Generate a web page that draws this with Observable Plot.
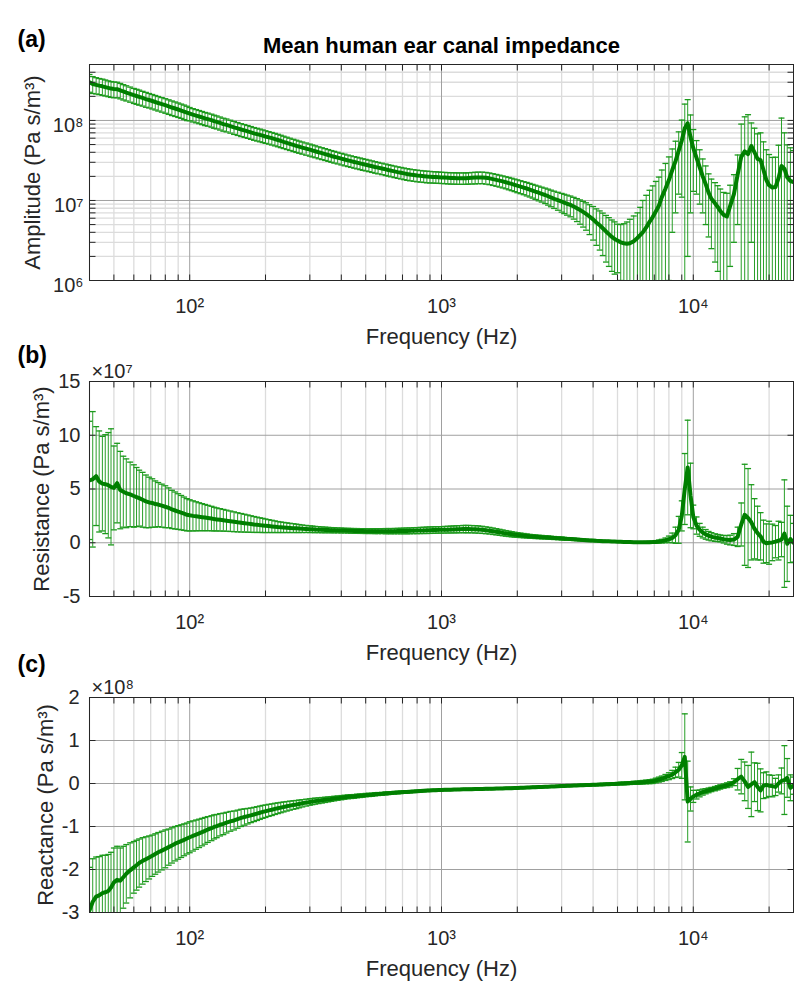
<!DOCTYPE html>
<html><head><meta charset="utf-8">
<script src="https://cdn.jsdelivr.net/npm/d3@7"></script>
<script src="https://cdn.jsdelivr.net/npm/@observablehq/plot@0.6"></script>
<style>
body{margin:0;background:#fff;}
#wrap{position:relative;width:805px;height:998px;overflow:hidden;}
.panel{position:absolute;left:0;}
</style></head><body><div id="wrap"></div>
<script>
// ---------------- data ----------------
const freq = [
 40,41.2,42.5,43.7,45,46.2,47.5,48.7, 50,51.5,53,54.5,56,58,60,61.5, 63,65,67,69,71,73,75,77.5, 80,82.5,85,87.5,90,92.5,95,97.5,
 100,103,106,109,112,115,118,122,125,128, 132,136,140,145,150,155,160,165,170,175, 180,185,190,195,200,206,212,218,224,230, 236,243,250,258,265,272,280,290,300,307,
 315,325,335,345,355,365,375,387,400,412, 425,437,450,462,475,487,500,515,530,545, 560,580,600,615,630,650,670,690,710,730, 750,775,800,825,850,875,900,925,950,975,
 1000,1030,1060,1090,1120,1150,1180,1220,1250,1280, 1320,1360,1400,1450,1500,1550,1600,1650,1700,1750, 1800,1850,1900,1950,2000,2060,2120,2180,2240,2300, 2360,2430,2500,2580,2650,2720,2800,2900,3000,3070,
 3150,3250,3350,3450,3550,3650,3750,3870,4000,4120, 4250,4370,4500,4620,4750,4870,5000,5150,5300,5450, 5600,5800,6000,6150,6300,6500,6700,6900,7100,7300, 7500,7750,8000,8250,8500,8750,9000,9250,9500,9750,
 10000,10300,10600,10900,11200,11500,11800,12200,12500,12800, 13200,13600,14000,14500,15000,15500,16000,16500,17000,17500, 18000,18500,19000,19500,20000,20600,21200,21800,22400,23000, 23600,24300,25000
];
// (a) amplitude, units of 1e6 Pa s/m^3
const ampMean = [
 300,285,278,272,267,261,255,250, 247,246,238,230,223,215,207,202, 197,191,185,180,175,170,165,160, 155,150,145,141,137,133,129,125,
 122,118,115,112,109,106,104,101,98,96, 93,90,88,85,82,79.5,77,75,73,71, 69,67.5,66,64.5,63,61.5,60,58.5,57,55.5, 54,52.5,51,49.5,48.2,47,45.8,44.5,43.2,42.2,
 41.2,40,39,38,37,36,35.2,34.3,33.3,32.5, 31.7,31,30.3,29.7,29.1,28.5,28,27.4,26.8,26.2, 25.7,25.1,24.5,24,23.6,23.1,22.6,22.2,21.8,21.4, 21.1,20.8,20.5,20.3,20.1,19.9,19.8,19.7,19.6,19.5,
 19.4,19.3,19.2,19.1,19.1,19.0,19.0,19.0,19.0,19.1, 19.2,19.3,19.4,19.4,19.2,18.9,18.5,18.1,17.7,17.3, 16.9,16.5,16.1,15.7,15.3,14.9,14.5,14.1,13.7,13.3, 12.9,12.5,12.1,11.7,11.3,10.9,10.5,10.1,9.7,9.4,
 9.1,8.8,8.4,8.0,7.6,7.2,6.8,6.3,5.8,5.3, 4.9,4.5,4.1,3.8,3.5,3.3,3.15,3.0,2.92,2.88, 2.92,3.1,3.4,3.7,4.0,4.6,5.4,6.2,7.3,8.6, 11,14,18,24,31,42,56,80,92,62,
 45,34,26,20,16,12.5,10.5,9.2,8.3,7.4, 6.6,6.3,8.5,12,21,35,41,38,48,40, 33,32,24,18,15.5,14.5,14.7,19,27,25, 19.5,17.5,17
];
const ampSD = [
 75,68,64,62,61,59,57,56, 55,54,52,50,48,46,44,43, 42,40,39,37,36,35,34,33, 32,31,30,29,28,27,26.5,25.5,
 23,22.3,21.6,21,20.4,19.8,19.3,18.7,18.2,17.7, 17.2,16.6,16.2,15.6,15.1,14.6,14.1,13.7,13.3,12.9, 12.5,12.2,11.9,11.6,11.3,11,10.7,10.4,10.1,9.8, 9.5,9.2,8.9,8.6,8.4,8.1,7.9,7.7,7.4,7.2,
 7,6.8,6.6,6.4,6.2,6,5.9,5.7,5.5,5.4, 5.2,5.1,5,4.9,4.8,4.7,4.6,4.5,4.4,4.3, 4.2,4.1,4,3.9,3.85,3.8,3.7,3.65,3.6,3.55, 3.5,3.45,3.4,3.35,3.3,3.3,3.25,3.2,3.2,3.15,
 3.1,3.1,3.1,3.1,3.1,3.1,3.1,3.1,3.1,3.1, 3.15,3.2,3.2,3.2,3.2,3.15,3.1,3.05,3,2.95, 2.9,2.9,2.85,2.8,2.8,2.75,2.7,2.7,2.65,2.6, 2.6,2.6,2.55,2.55,2.55,2.55,2.55,2.55,2.55,2.55,
 2.55,2.55,2.55,2.55,2.55,2.55,2.55,2.55,2.6,2.55, 2.5,2.45,2.4,2.3,2.2,2.1,1.9,2.0,2.2,2.5, 2.9,3.3,3.6,4.5,6,7,8,9,10,11, 13,15,17,20,24,30,45,80,90,55,
 32,22,17,13,11,9,8,7.5,7,6.5, 6,6,7,9,16,55,70,80,45,40, 35,38,30,25,22,20,20,30,80,45, 30,28,25
];
// (b) resistance, units of 1e7 Pa s/m^3
const resMean = [
 5.8,5.9,6.2,5.7,5.5,5.45,5.35,5.2, 5.1,5.55,4.9,4.75,4.6,4.5,4.35,4.25, 4.15,4.0,3.85,3.75,3.7,3.6,3.55,3.45, 3.35,3.25,3.1,3.0,2.9,2.8,2.7,2.6,
 2.55,2.5,2.46,2.42,2.38,2.34,2.3,2.25,2.2,2.17, 2.13,2.09,2.05,2.0,1.95,1.9,1.86,1.82,1.78,1.74, 1.7,1.67,1.64,1.61,1.58,1.55,1.52,1.49,1.46,1.44, 1.42,1.4,1.38,1.36,1.34,1.32,1.3,1.28,1.26,1.25,
 1.23,1.22,1.2,1.19,1.18,1.17,1.16,1.15,1.14,1.13, 1.12,1.11,1.1,1.1,1.09,1.09,1.08,1.08,1.08,1.08, 1.08,1.08,1.08,1.08,1.08,1.08,1.09,1.09,1.1,1.1, 1.11,1.12,1.13,1.14,1.15,1.16,1.17,1.18,1.19,1.2,
 1.2,1.21,1.22,1.23,1.24,1.25,1.26,1.27,1.27,1.27, 1.26,1.25,1.23,1.2,1.16,1.12,1.07,1.02,0.97,0.92, 0.87,0.83,0.79,0.75,0.72,0.69,0.66,0.63,0.6,0.58, 0.56,0.54,0.52,0.5,0.48,0.46,0.44,0.42,0.4,0.38,
 0.36,0.34,0.32,0.3,0.28,0.26,0.24,0.22,0.2,0.18, 0.17,0.15,0.14,0.13,0.12,0.11,0.1,0.09,0.08,0.07, 0.06,0.05,0.04,0.04,0.04,0.04,0.05,0.06,0.08,0.11, 0.15,0.22,0.32,0.45,0.7,1.2,2.5,5.0,7.0,4.4,
 2.4,1.6,1.2,0.95,0.78,0.65,0.56,0.48,0.44,0.4, 0.33,0.27,0.25,0.3,0.55,1.7,2.6,2.3,1.9,1.3, 0.9,0.6,0.1,-0.05,0.0,0.03,0.1,0.2,0.3,0.85, -0.1,0.35,0.0
];
const resSD = [
 5.5,6.3,4.6,4.7,4.4,4.6,4.9,5.4, 3.9,3.7,3.6,3.3,3.2,3.0,2.9,2.75, 2.6,2.55,2.45,2.35,2.25,2.15,2.05,2.0, 1.95,1.85,1.78,1.72,1.66,1.6,1.55,1.5,
 1.45,1.4,1.35,1.3,1.26,1.22,1.18,1.14,1.1,1.07, 1.04,1.01,0.98,0.95,0.92,0.89,0.86,0.83,0.8,0.77, 0.74,0.71,0.68,0.66,0.63,0.6,0.57,0.54,0.51,0.49, 0.47,0.45,0.43,0.41,0.39,0.37,0.35,0.33,0.31,0.3,
 0.29,0.28,0.27,0.26,0.25,0.24,0.24,0.23,0.23,0.22, 0.22,0.22,0.22,0.22,0.22,0.22,0.22,0.22,0.22,0.23, 0.23,0.23,0.24,0.24,0.24,0.25,0.25,0.26,0.26,0.27, 0.27,0.28,0.28,0.29,0.29,0.3,0.3,0.3,0.3,0.3,
 0.3,0.31,0.31,0.32,0.32,0.33,0.33,0.34,0.34,0.34, 0.34,0.34,0.34,0.33,0.32,0.31,0.3,0.29,0.28,0.27, 0.26,0.25,0.24,0.23,0.22,0.21,0.2,0.19,0.18,0.17, 0.17,0.16,0.16,0.15,0.15,0.14,0.14,0.13,0.13,0.12,
 0.12,0.11,0.11,0.1,0.1,0.1,0.09,0.09,0.09,0.08, 0.08,0.08,0.07,0.07,0.07,0.06,0.06,0.06,0.06,0.06, 0.06,0.06,0.06,0.06,0.07,0.08,0.09,0.1,0.12,0.14, 0.17,0.22,0.3,0.45,0.75,1.25,1.4,3.3,4.4,3.0,
 1.1,0.8,0.6,0.5,0.45,0.4,0.38,0.35,0.33,0.32, 0.35,0.4,0.45,0.55,0.9,2.0,4.7,4.6,3.5,2.8, 2.5,2.2,2.0,1.8,2.0,1.7,1.5,1.8,1.6,5.0, 3.5,2.2,1.8
];
// (c) reactance, units of 1e8 Pa s/m^3
const reaMean = [
 -2.95,-2.75,-2.63,-2.6,-2.55,-2.53,-2.5,-2.42, -2.3,-2.24,-2.26,-2.18,-2.1,-2.02,-1.95,-1.9, -1.85,-1.8,-1.76,-1.72,-1.68,-1.64,-1.6,-1.56, -1.52,-1.48,-1.44,-1.4,-1.37,-1.34,-1.31,-1.28,
 -1.25,-1.22,-1.19,-1.16,-1.13,-1.1,-1.07,-1.04,-1.01,-0.99, -0.96,-0.94,-0.91,-0.88,-0.86,-0.83,-0.8,-0.78,-0.76,-0.74, -0.72,-0.7,-0.68,-0.66,-0.645,-0.625,-0.61,-0.59,-0.575,-0.56, -0.545,-0.53,-0.515,-0.5,-0.49,-0.475,-0.46,-0.445,-0.43,-0.42,
 -0.41,-0.4,-0.39,-0.38,-0.37,-0.36,-0.35,-0.34,-0.33,-0.32, -0.31,-0.305,-0.3,-0.29,-0.285,-0.28,-0.27,-0.265,-0.26,-0.25, -0.245,-0.24,-0.23,-0.225,-0.22,-0.215,-0.21,-0.205,-0.2,-0.195, -0.19,-0.185,-0.18,-0.175,-0.17,-0.165,-0.16,-0.158,-0.155,-0.152,
 -0.15,-0.148,-0.146,-0.144,-0.142,-0.14,-0.138,-0.136,-0.135,-0.134, -0.132,-0.13,-0.128,-0.126,-0.124,-0.122,-0.12,-0.118,-0.116,-0.114, -0.112,-0.11,-0.108,-0.106,-0.104,-0.1,-0.097,-0.094,-0.091,-0.088, -0.085,-0.082,-0.079,-0.076,-0.073,-0.07,-0.067,-0.064,-0.06,-0.057,
 -0.054,-0.051,-0.048,-0.045,-0.042,-0.039,-0.036,-0.033,-0.03,-0.027, -0.024,-0.021,-0.018,-0.015,-0.012,-0.009,-0.006,-0.002,0.002,0.006, 0.01,0.015,0.02,0.025,0.03,0.036,0.043,0.05,0.07,0.09, 0.11,0.14,0.17,0.21,0.26,0.32,0.42,0.62,-0.42,-0.36,
 -0.3,-0.26,-0.23,-0.2,-0.18,-0.16,-0.14,-0.12,-0.1,-0.08, -0.06,-0.04,-0.02,0.03,0.1,0.16,0.05,-0.08,-0.02,0.03, -0.08,-0.16,-0.05,-0.03,-0.05,-0.06,-0.08,0.0,0.06,0.08, 0.13,-0.1,-0.05
];
const reaSD = [
 1.0,1.0,0.92,0.9,0.88,0.86,0.85,0.82, 0.8,0.78,0.76,0.72,0.68,0.64,0.6,0.58, 0.56,0.54,0.52,0.5,0.48,0.47,0.46,0.45, 0.44,0.42,0.41,0.4,0.39,0.38,0.37,0.36,
 0.36,0.35,0.34,0.33,0.32,0.31,0.3,0.29,0.28,0.27, 0.26,0.25,0.24,0.23,0.22,0.21,0.2,0.19,0.18,0.17, 0.165,0.16,0.155,0.15,0.145,0.14,0.135,0.13,0.125,0.12, 0.115,0.11,0.105,0.1,0.095,0.09,0.085,0.08,0.075,0.072,
 0.07,0.067,0.064,0.061,0.058,0.055,0.053,0.051,0.049,0.047, 0.045,0.044,0.043,0.042,0.041,0.04,0.039,0.038,0.037,0.036, 0.035,0.034,0.033,0.032,0.031,0.03,0.029,0.028,0.027,0.026, 0.025,0.024,0.024,0.023,0.023,0.022,0.022,0.021,0.021,0.02,
 0.02,0.02,0.02,0.02,0.02,0.02,0.02,0.02,0.02,0.02, 0.02,0.02,0.02,0.02,0.02,0.02,0.02,0.02,0.02,0.02, 0.02,0.02,0.02,0.02,0.02,0.02,0.02,0.02,0.02,0.02, 0.02,0.02,0.02,0.02,0.02,0.02,0.02,0.02,0.02,0.02,
 0.02,0.02,0.02,0.021,0.021,0.022,0.022,0.023,0.023,0.024, 0.024,0.025,0.025,0.026,0.027,0.028,0.029,0.03,0.031,0.032, 0.033,0.035,0.037,0.039,0.041,0.044,0.047,0.05,0.054,0.058, 0.063,0.07,0.08,0.095,0.12,0.17,0.3,1.0,0.94,0.28,
 0.14,0.1,0.08,0.07,0.06,0.055,0.05,0.05,0.05,0.05, 0.05,0.055,0.06,0.08,0.25,0.4,0.45,0.5,0.75,0.45, 0.55,0.5,0.3,0.3,0.25,0.25,0.2,0.2,0.3,0.8, 0.45,0.3,0.2
];
// tick values
const xMajor = [100, 1000, 10000];
const xMinor = [40,50,60,70,80,90, 200,300,400,500,600,700,800,900, 2000,3000,4000,5000,6000,7000,8000,9000, 20000];
const ampMajor = [1e6, 1e7, 1e8];
const ampMinor = [2e6,3e6,4e6,5e6,6e6,7e6,8e6,9e6, 2e7,3e7,4e7,5e7,6e7,7e7,8e7,9e7, 2e8,3e8,4e8];
const resTicks = [-5, 0, 5, 10, 15];
const reaTicks = [-3, -2, -1, 0, 1, 2];

// ---------------- checks ----------------
for (const [n, a] of Object.entries({ampMean, ampSD, resMean, resSD, reaMean, reaSD})) {
  if (a.length !== freq.length) throw new Error(n + " length " + a.length + " vs " + freq.length);
}

// ---------------- rendering ----------------
const FONT = '"Liberation Sans", Arial, Helvetica, sans-serif';
const SUP = {"0":"⁰","1":"¹","2":"²","3":"³","4":"⁴","5":"⁵","6":"⁶","7":"⁷","8":"⁸","9":"⁹","-":"⁻"};
const pow10 = d => "10" + String(Math.round(Math.log10(d))).split("").map(c => SUP[c]).join("");
const INK = "#262626", BAR = "#1c9a1c", LINE = "#007f00";
const GRID_MAJ = "#a0a0a0", GRID_MIN = "#dcdcdc";

const sym = (x1, y1, x2, y2) => ({draw(ctx) { ctx.moveTo(x1, y1); ctx.lineTo(x2, y2); }});
const tUp = sym(0, 0, 0, -6), tDown = sym(0, 0, 0, 6), tRight = sym(0, 0, 6, 0), tLeft = sym(0, 0, -6, 0);
const cap = sym(-3, 0, 3, 0);

function table(mean, sd, unit, logScale) {
  return freq.map((f, i) => {
    const m = mean[i] * unit, lo = (mean[i] - sd[i]) * unit, hi = (mean[i] + sd[i]) * unit;
    const ok = !logScale || lo > 0;
    return {f, m, hi, lo: ok ? lo : 1e4, loCap: ok};
  });
}

function panel(o) {
  const data = o.data;
  const xAll = [...xMinor, ...xMajor];
  const yAllTicks = o.yMinor ? [...o.yMinor, ...o.yMajor] : o.yMajor;
  const T = {lineAnchor: "middle", text: d => d};
  const marks = [
    Plot.ruleX(xMinor, {stroke: GRID_MIN, strokeWidth: 1.3}),
    o.yMinor ? Plot.ruleY(o.yMinor, {stroke: GRID_MIN, strokeWidth: 1.3}) : null,
    Plot.ruleX(xMajor, {stroke: GRID_MAJ, strokeWidth: 1}),
    Plot.ruleY(o.yMajor, {stroke: GRID_MAJ, strokeWidth: 1}),
    Plot.ruleX(data, {x: "f", y1: "lo", y2: "hi", stroke: BAR, strokeWidth: 1, strokeOpacity: 0.95, clip: true}),
    Plot.dot(data, {x: "f", y: "hi", symbol: cap, r: 3, fill: "none", stroke: BAR, strokeWidth: 1.3, clip: true}),
    Plot.dot(data.filter(d => d.loCap), {x: "f", y: "lo", symbol: cap, r: 3, fill: "none", stroke: BAR, strokeWidth: 1.3, clip: true}),
    Plot.line(data, {x: "f", y: "m", stroke: LINE, strokeWidth: 4, strokeLinejoin: "round", clip: true}),
    Plot.frame({stroke: INK, strokeWidth: 1}),
    Plot.dot(xAll, {x: d => d, frameAnchor: "bottom", symbol: tUp, fill: "none", stroke: INK, strokeWidth: 1}),
    Plot.dot(xAll, {x: d => d, frameAnchor: "top", symbol: tDown, fill: "none", stroke: INK, strokeWidth: 1}),
    Plot.dot(yAllTicks, {y: d => d, frameAnchor: "left", symbol: tRight, fill: "none", stroke: INK, strokeWidth: 1}),
    Plot.dot(yAllTicks, {y: d => d, frameAnchor: "right", symbol: tLeft, fill: "none", stroke: INK, strokeWidth: 1}),
    Plot.axisX(xMajor, {tickFormat: pow10, tickSize: 0, tickPadding: 18, fontSize: 20, fill: INK, label: null}),
    Plot.axisY(o.yMajor, {tickFormat: o.yFormat, tickSize: 0, tickPadding: o.yPad, dy: o.yDy, fontSize: 20, fill: INK, label: null}),
    Plot.text([o.ylabel], {...T, frameAnchor: "left", textAnchor: "middle", rotate: -90, dx: o.ylabelDx, fontSize: 22, fill: INK}),
    Plot.text(["Frequency (Hz)"], {...T, frameAnchor: "bottom", textAnchor: "middle", dy: 56, fontSize: 22, fill: INK}),
    Plot.text([o.letter], {...T, frameAnchor: "top-left", textAnchor: "start", dx: -72, dy: o.letterDy, fontSize: 23, fontWeight: "bold", fill: "#000"}),
    o.exponent ? Plot.text([o.exponent], {...T, frameAnchor: "top-left", textAnchor: "start", dx: 2, dy: -10.4, fontSize: 20, fill: INK}) : null,
    o.title ? Plot.text([o.title], {...T, frameAnchor: "top", textAnchor: "middle", dy: -19, fontSize: 22, fontWeight: "bold", fill: "#000"}) : null
  ].filter(Boolean);
  const svg = Plot.plot({
    width: 805, height: o.height,
    marginLeft: 89, marginRight: 12, marginTop: o.mt, marginBottom: o.mb,
    x: {type: "log", domain: [40, 25000]},
    y: {type: o.yType, domain: o.yDomain},
    style: {fontFamily: FONT, fontSize: "20px", overflow: "visible", background: "transparent"},
    marks
  });
  svg.classList.add("panel");
  svg.style.top = o.top + "px";
  svg.style.position = "absolute";
  document.getElementById("wrap").appendChild(svg);
}

panel({
  data: table(ampMean, ampSD, 1e6, true), top: 0, height: 345, mt: 64, mb: 65,
  yType: "log", yDomain: [1e6, 5e8], yMajor: ampMajor, yMinor: ampMinor, yFormat: pow10, yPad: 6, yDy: 5,
  ylabel: "Amplitude (Pa s/m³)", ylabelDx: -57, letter: "(a)", letterDy: -24.4,
  title: "Mean human ear canal impedance"
});
panel({
  data: table(resMean, resSD, 1, false), top: 345, height: 315, mt: 36, mb: 64,
  yType: "linear", yDomain: [-5, 15], yMajor: resTicks, yFormat: d => String(d), yPad: 9, yDy: 0,
  ylabel: "Resistance (Pa s/m³)", ylabelDx: -48, letter: "(b)", letterDy: -25.4, exponent: "×10⁷"
});
panel({
  data: table(reaMean, reaSD, 1, false), top: 660, height: 338, mt: 37, mb: 86,
  yType: "linear", yDomain: [-3, 2], yMajor: reaTicks, yFormat: d => String(d), yPad: 10, yDy: 0,
  ylabel: "Reactance (Pa s/m³)", ylabelDx: -44, letter: "(c)", letterDy: -32.4, exponent: "×10⁸"
});
</script></body></html>
